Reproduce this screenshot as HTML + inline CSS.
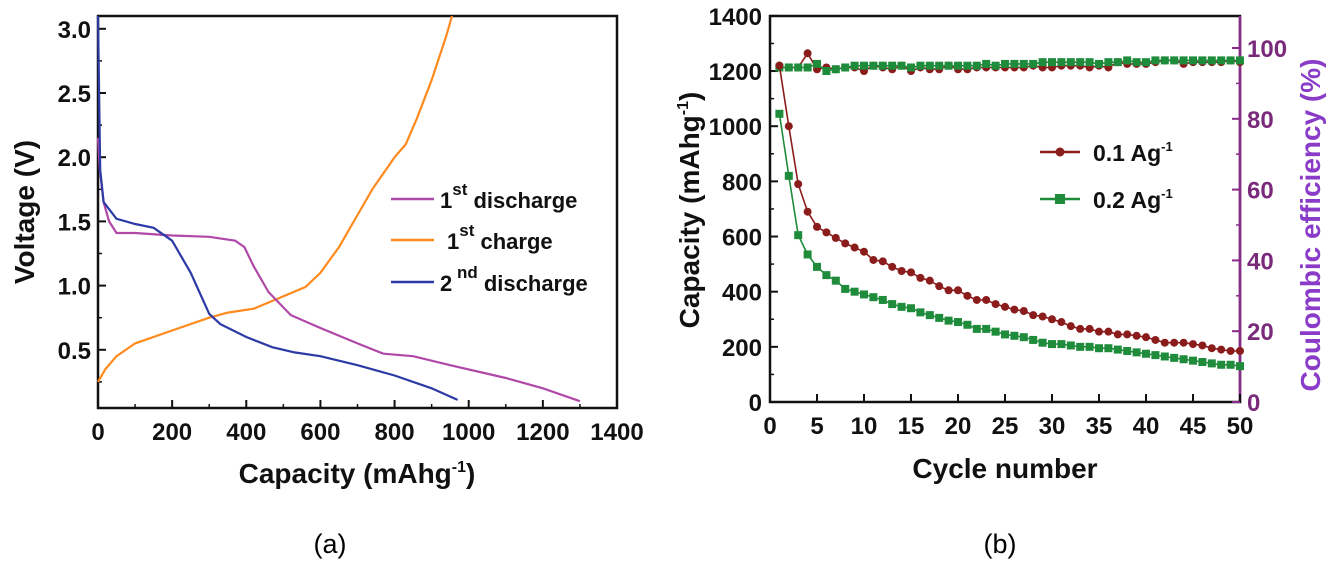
<!DOCTYPE html>
<html><head><meta charset="utf-8"><style>
body{margin:0;background:#fff;width:1328px;height:563px;overflow:hidden}
svg{font-family:"Liberation Sans",Arial,sans-serif}
.t{font-weight:bold;font-size:24px;fill:#111}
.ti{font-weight:bold;font-size:28px;fill:#111}
</style></head><body>
<svg id="s" width="1328" height="563">
<g id="ga"></g>
<g id="gb"></g>
<text x="330" y="553" font-size="27" text-anchor="middle" font-family="Liberation Sans">(a)</text>
<text x="1000" y="553" font-size="27" text-anchor="middle" font-family="Liberation Sans">(b)</text>
</svg>
<script>
// ---- Chart (a) data ----
const aXTicks=[0,200,400,600,800,1000,1200,1400];
const aYTicks=[0.5,1.0,1.5,2.0,2.5,3.0];
const dis1Cap=[0,5,15,30,50,100,200,300,370,395,420,460,520,600,700,770,850,950,1100,1200,1300];
const dis1V=[2.15,1.9,1.65,1.5,1.41,1.41,1.39,1.38,1.35,1.3,1.15,0.95,0.77,0.67,0.55,0.47,0.45,0.38,0.28,0.2,0.1];
const chgCap=[0,20,50,100,200,300,350,420,470,560,600,650,700,740,800,830,860,900,940,955];
const chgV=[0.25,0.35,0.45,0.55,0.65,0.75,0.79,0.82,0.88,0.99,1.1,1.3,1.55,1.75,2.0,2.1,2.3,2.6,2.95,3.1];
const dis2Cap=[0,3,6,15,50,100,150,200,250,300,330,400,470,530,600,700,800,900,970];
const dis2V=[3.1,2.5,1.9,1.65,1.52,1.48,1.45,1.35,1.1,0.78,0.7,0.6,0.52,0.48,0.45,0.38,0.3,0.2,0.11];
// ---- Chart (b) data ----
const cycles=Array.from({length:50},(_,i)=>i+1);
const cap01=[1220,1000,790,690,635,615,595,575,560,545,515,510,490,475,470,450,440,420,405,405,385,370,370,355,345,335,330,315,310,300,290,275,265,265,255,255,245,245,240,235,225,215,215,215,210,205,195,190,185,185];
const cap02=[1045,820,605,535,490,460,440,410,400,390,380,370,355,345,340,325,315,305,295,290,280,265,265,255,245,240,235,225,215,210,210,205,200,200,195,195,190,185,180,175,170,165,160,155,150,145,140,135,135,130];
const ce01=[94.5,94.5,94.5,98.5,94,94.5,94,94.5,94.5,93.5,95,94.5,94,95,93.5,94.5,94,94,95,94,94,94.5,94.5,94.5,94.5,94.5,94.5,95,94.5,94.5,95,95,95,94.5,95,94.5,96,95.5,95.5,95.5,96,96.5,96.5,95.5,96,96,96,96,96.5,96];
const ce02=[94.5,94.5,94.5,94.5,95.5,93.5,94,94.5,95,95,95,95,95,95,94.5,95,95,95,95,95,95,95,95.5,95,95.5,95.5,95.5,95.5,96,96,96,96,96,96,95.5,96,96,96.5,96,96,96.5,96.5,96.5,96.5,96.5,96.5,96.5,96.5,96.5,96.5];
const bXTicks=[0,5,10,15,20,25,30,35,40,45,50];
const bYTicks=[0,200,400,600,800,1000,1200,1400];
const bY2Ticks=[0,20,40,60,80,100];

const NS="http://www.w3.org/2000/svg";
function mk(p,tag,at){const e=document.createElementNS(NS,tag);for(const k in at)e.setAttribute(k,at[k]);p.appendChild(e);return e;}
// ===== A =====
const ga=document.getElementById('ga');
const ax=v=>98+v*(617-98)/1400, ay=v=>414-v*128.4;
let e=mk(ga,'rect',{x:98,y:16,width:519,height:392,fill:'none',stroke:'#111','stroke-width':2.5});

aXTicks.forEach(v=>{e=mk(ga,'line',{x1:ax(v),x2:ax(v),y1:408,y2:400,stroke:'#111','stroke-width':2});
 
 e=mk(ga,'text',{x:ax(v),y:440,'text-anchor':'middle',class:'t'});e.textContent=v;
 
 if(v<1400){const m=mk(ga,'line',{x1:ax(v+100),x2:ax(v+100),y1:408,y2:404,stroke:'#111','stroke-width':1.5});}});
aYTicks.forEach(v=>{e=mk(ga,'line',{x1:98,x2:106,y1:ay(v),y2:ay(v),stroke:'#111','stroke-width':2});
 
 e=mk(ga,'text',{x:91,y:ay(v)+9,'text-anchor':'end',class:'t'});e.textContent=v.toFixed(1);
 
 const m=mk(ga,'line',{x1:98,x2:102,y1:ay(v-0.25),y2:ay(v-0.25),stroke:'#111','stroke-width':1.5});});
function lineA(xs,ys,col,name){const p=xs.map((x,i)=>ax(x).toFixed(1)+','+ay(ys[i]).toFixed(1)).join(' ');
 const l=mk(ga,'polyline',{points:p,fill:'none',stroke:col,'stroke-width':2.2});}
lineA(chgCap,chgV,'#ff8a1e','series-1st-charge');
lineA(dis1Cap,dis1V,'#b048a8','series-1st-discharge');
lineA(dis2Cap,dis2V,'#2c3aa6','series-2nd-discharge');
e=mk(ga,'text',{x:357,y:483,'text-anchor':'middle',class:'ti'});e.innerHTML='Capacity (mAhg<tspan dy="-11" font-size="16">-1</tspan><tspan dy="11">)</tspan>';

e=mk(ga,'text',{x:0,y:0,'text-anchor':'middle',class:'ti',transform:'translate(34,212) rotate(-90)'});e.textContent='Voltage (V)';

[['#b048a8','1','st','discharge',199],['#ff8a1e','1','st','charge',240],['#2c3aa6','2','nd','discharge',282]].forEach(([c,n,s,w,y],i)=>{
 const g=mk(ga,'g',{});
 mk(g,'line',{x1:391,x2:434,y1:y,y2:y,stroke:c,'stroke-width':2.5});
 const t=mk(g,'text',{x:i==1?447:440,y:y+9,'font-size':'22','font-weight':'bold',fill:'#111'});
 t.innerHTML=n+'<tspan dy="-13" font-size="17">'+(i==2?' ':'')+s+'</tspan><tspan dy="13"> '+w+'</tspan>';});
// ===== B =====
const gb=document.getElementById('gb');
const bx=v=>770+v*(1240-770)/50, by=v=>402-v*0.2758, by2=v=>402-v*3.54;
e=mk(gb,'rect',{x:770,y:16,width:470,height:386,fill:'none',stroke:'#111','stroke-width':2.5});

e=mk(gb,'line',{x1:1240,x2:1240,y1:16,y2:402,stroke:'#8a2a8a','stroke-width':2.5});

bXTicks.forEach(v=>{e=mk(gb,'line',{x1:bx(v),x2:bx(v),y1:402,y2:394,stroke:'#111','stroke-width':2});
 
 e=mk(gb,'text',{x:bx(v),y:434,'text-anchor':'middle',class:'t'});e.textContent=v;
 });
bYTicks.forEach(v=>{e=mk(gb,'line',{x1:770,x2:778,y1:by(v),y2:by(v),stroke:'#111','stroke-width':2});
 
 e=mk(gb,'text',{x:762,y:by(v)+9,'text-anchor':'end',class:'t'});e.textContent=v;
 
 if(v<1400){const m=mk(gb,'line',{x1:770,x2:774,y1:by(v+100),y2:by(v+100),stroke:'#111','stroke-width':1.5});}});
bY2Ticks.forEach(v=>{e=mk(gb,'line',{x1:1232,x2:1240,y1:by2(v),y2:by2(v),stroke:'#8a2a8a','stroke-width':2});
 
 e=mk(gb,'text',{x:1247,y:by2(v)+9,class:'t',style:'fill:#7a2a7a'});e.textContent=v;
 
 if(v<100){const m=mk(gb,'line',{x1:1236,x2:1240,y1:by2(v+10),y2:by2(v+10),stroke:'#8a2a8a','stroke-width':1.5});}});
function seriesB(ys,f,col,shape,name){
 const g=mk(gb,'g',{});
 mk(g,'polyline',{points:cycles.map((c,i)=>bx(c).toFixed(1)+','+f(ys[i]).toFixed(1)).join(' '),fill:'none',stroke:col,'stroke-width':1.6});
 cycles.forEach((c,i)=>{let m;
  if(shape=='c')m=mk(g,'circle',{cx:bx(c),cy:f(ys[i]),r:4,fill:col});
  else m=mk(g,'rect',{x:bx(c)-4,y:f(ys[i])-4,width:8,height:8,fill:col});
  });}
seriesB(ce01,by2,'#8b1c1c','c','series-ce-0-1');
seriesB(ce02,by2,'#1f8c3c','s','series-ce-0-2');
seriesB(cap01,by,'#8b1c1c','c','series-capacity-0-1');
seriesB(cap02,by,'#1f8c3c','s','series-capacity-0-2');
[['#8b1c1c','c','0.1',152],['#1f8c3c','s','0.2',199]].forEach(([c,s,n,y])=>{
 const g=mk(gb,'g',{});
 mk(g,'line',{x1:1040,x2:1080,y1:y,y2:y,stroke:c,'stroke-width':2.5});
 if(s=='c')mk(g,'circle',{cx:1060,cy:y,r:4.5,fill:c});else mk(g,'rect',{x:1055,y:y-5,width:10,height:10,fill:c});
 const t=mk(g,'text',{x:1093,y:y+9,'font-size':'23','font-weight':'bold',fill:'#111'});
 t.innerHTML=n+' Ag<tspan dy="-10" font-size="13">-1</tspan>';});
e=mk(gb,'text',{x:1005,y:478,'text-anchor':'middle',class:'ti'});e.textContent='Cycle number';

e=mk(gb,'text',{x:0,y:0,'text-anchor':'middle',class:'ti',transform:'translate(699,210) rotate(-90)'});
e.innerHTML='Capacity (mAhg<tspan dy="-11" font-size="16">-1</tspan><tspan dy="11">)</tspan>';

e=mk(gb,'text',{x:0,y:0,'text-anchor':'middle',class:'ti',style:'fill:#8a3cc8',transform:'translate(1320,225) rotate(-90)'});e.textContent='Coulombic efficiency (%)';

</script>
</body></html>
